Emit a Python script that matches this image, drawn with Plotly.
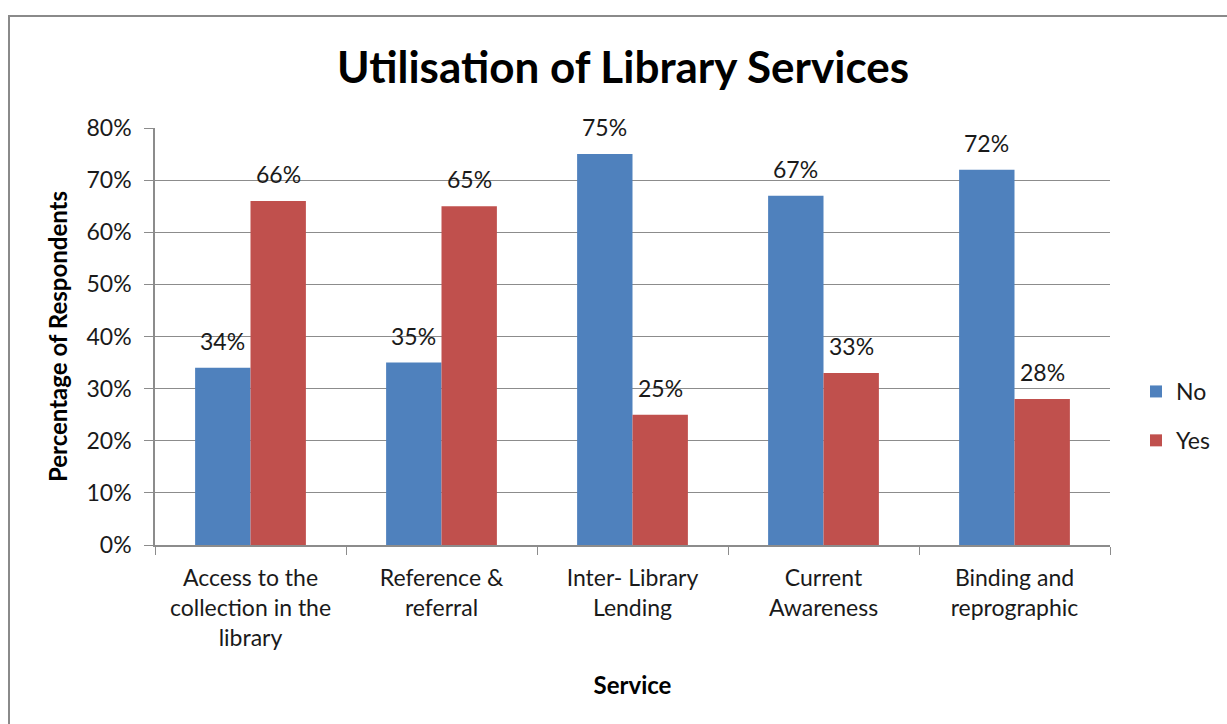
import plotly.graph_objects as go

services = [
    "Access to the<br>collection in the<br>library",
    "Reference &<br>referral",
    "Inter- Library<br>Lending",
    "Current<br>Awareness",
    "Binding and<br>reprographic",
]
no_pct = [34, 35, 75, 67, 72]
yes_pct = [66, 65, 25, 33, 28]
y_ticks = [0, 10, 20, 30, 40, 50, 60, 70, 80]
y_tick_text = [f"{v}%" for v in y_ticks]

FONT = "Lato"
BLUE = "#4F81BD"
RED = "#C0504D"
GRID = "#8C8C8C"
TXT = "#1a1a1a"

W, H = 1227, 724
ML, MR, MT, MB = 155, 117, 128, 179
plot_w = W - ML - MR
plot_h = H - MT - MB

fig = go.Figure()
fig.add_trace(go.Bar(x=services, y=no_pct, name="No", marker_color=BLUE,
                     marker_line_width=0, legendgroup="no"))
fig.add_trace(go.Bar(x=services, y=yes_pct, name="Yes", marker_color=RED,
                     marker_line_width=0, legendgroup="yes"))

bargap = 0.42
bar_px = plot_w / len(services) * (1 - bargap) / 2
annotations = []
for cat, n, y in zip(services, no_pct, yes_pct):
    for val, shift in ((n, -bar_px / 2), (y, bar_px / 2)):
        annotations.append(dict(
            x=cat, y=val, text=f"{val}%", showarrow=False,
            xshift=shift, yshift=27, yanchor="middle",
            font=dict(family=FONT, size=23, color=TXT),
        ))


def px_x(p):
    return (p - ML) / plot_w


def px_y(p):
    return (H - MB - p) / plot_h


fig.update_layout(
    width=W, height=H,
    margin=dict(l=ML, r=MR, t=MT, b=MB, autoexpand=False),
    paper_bgcolor="white", plot_bgcolor="white",
    barmode="group", bargap=bargap, bargroupgap=0,
    title=dict(text="<b>Utilisation of Library Services</b>",
               x=px_x(623), xref="paper", xanchor="center",
               y=1 - 68 / H, yanchor="middle",
               font=dict(family=FONT, size=44, color="black")),
    font=dict(family=FONT, size=23, color=TXT),
    xaxis=dict(
        title=dict(text="<b>Service</b>", font=dict(family=FONT, size=24, color="black"), standoff=27),
        showline=True, linecolor=GRID, linewidth=1.5,
        ticks="outside", ticklen=8, tickcolor=GRID, tickson="boundaries",
        ticklabelstandoff=12,
        tickfont=dict(family=FONT, size=23, color=TXT),
    ),
    yaxis=dict(
        title=dict(text="<b>Percentage of Respondents</b>", font=dict(family=FONT, size=24, color="black"), standoff=12),
        range=[0, 80], tickmode="array", tickvals=y_ticks, ticktext=y_tick_text,
        showgrid=True, gridcolor=GRID, gridwidth=1,
        showline=True, linecolor=GRID, linewidth=1.5,
        ticks="outside", ticklen=9, tickcolor=GRID,
        ticklabelstandoff=8,
        zeroline=False,
        tickfont=dict(family=FONT, size=23, color=TXT),
    ),
    legend=dict(x=px_x(1136), y=px_y(370), xanchor="left", yanchor="top",
                traceorder="grouped", tracegroupgap=16,
                font=dict(family=FONT, size=23, color=TXT),
                itemwidth=30, bgcolor="rgba(0,0,0,0)"),
    annotations=annotations,
    shapes=[dict(type="rect", xref="paper", yref="paper",
                 x0=px_x(9), x1=px_x(1240), y0=px_y(740), y1=px_y(16),
                 line=dict(color="#8a8a8a", width=2), layer="below")],
)

fig.write_html("out.html")
